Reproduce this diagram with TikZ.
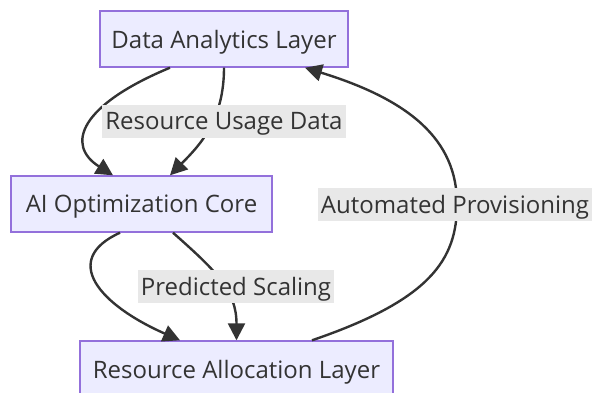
\documentclass[tikz,border=0pt]{standalone}
\usepackage{fontspec}
\setmainfont{Open Sans}
\usetikzlibrary{arrows.meta,calc}
\definecolor{boxfill}{HTML}{ECECFF}
\definecolor{boxline}{HTML}{9370DB}
\definecolor{edgecol}{HTML}{333333}
\definecolor{lblfill}{HTML}{E8E8E8}
\definecolor{txt}{HTML}{333333}
\begin{document}
\begin{tikzpicture}[x=1pt,y=-1pt,
  box/.style={draw=boxline,fill=boxfill,line width=1.4pt,minimum height=56pt,inner sep=0pt,text depth=0pt,text=txt,font=\fontsize{24}{29}\selectfont},
  lbl/.style={fill=lblfill,inner xsep=3pt,minimum height=33pt,inner ysep=0pt,text depth=0pt,text=txt,font=\fontsize{24}{29}\selectfont},
  flow/.style={draw=edgecol,line width=2.4pt,-{Triangle[length=17pt,width=17pt]}}]
\useasboundingbox (0,0) rectangle (592,392);
\node[box,minimum width=248pt] (da) at (224,39) {Data Analytics Layer};
\node[box,minimum width=261pt] (ai) at (141.5,204) {AI Optimization Core};
\node[box,minimum width=313pt] (ra) at (236.5,369) {Resource Allocation Layer};
\draw[flow] ([xshift=-54pt]da.south) .. controls (80,105) and (65,145) .. ([xshift=-28.5pt]ai.north);
\draw[flow] (da.south) .. controls (224,120) and (200,145) .. ([xshift=28.5pt]ai.north);
\draw[flow] ([xshift=-21.5pt]ai.south) .. controls (60,260) and (100,305) .. ([xshift=-56.5pt]ra.north);
\draw[flow] ([xshift=31.5pt]ai.south) .. controls (215,270) and (236.5,290) .. (ra.north);
\draw[flow] ([xshift=75.5pt]ra.north) .. controls (430,300) and (457,260) .. (457,204) .. controls (457,140) and (410,100) .. ([xshift=81pt]da.south);
\node[lbl] (l1) at (224,121) {Resource Usage Data};
\node[lbl] (l2) at (236,286) {Predicted Scaling};
\node[lbl] (l3) at (455,204) {Automated Provisioning};
\end{tikzpicture}
\end{document}
